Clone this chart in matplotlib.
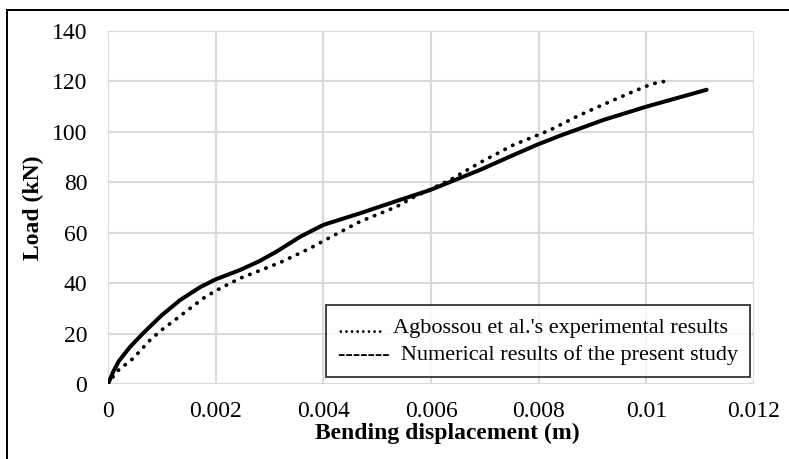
import matplotlib
matplotlib.use("Agg")
import matplotlib.pyplot as plt
from matplotlib.lines import Line2D

plt.rcParams['font.family'] = ['Liberation Serif', 'DejaVu Serif']

# numerical results of the present study (solid)
num_x = [0, 0.0001, 0.0002, 0.0004, 0.00066, 0.001, 0.00134, 0.00171, 0.002,
         0.00245, 0.0028, 0.00313, 0.00357, 0.004, 0.00468, 0.00542, 0.00598,
         0.00691, 0.00753, 0.00796, 0.0084, 0.0092, 0.01, 0.01112]
num_y = [0, 5.0, 9.0, 14.5, 20.3, 27.3, 33.3, 38.4, 41.5,
         45.2, 48.6, 52.5, 58.4, 63.1, 67.7, 73.0, 76.9,
         84.9, 90.8, 94.8, 98.5, 104.7, 110.0, 116.7]

# Agbossou et al. experimental results (dotted)
exp_x = [0, 0.00016, 0.00047, 0.00078, 0.001, 0.00128, 0.00177, 0.002, 0.00245, 0.0032,
         0.00375, 0.00406, 0.00468, 0.00536, 0.00567, 0.00635, 0.00691, 0.00753,
         0.00821, 0.0087, 0.00908, 0.00967, 0.0101, 0.0104]
exp_y = [0, 4.9, 10.2, 17.4, 21.5, 26.0, 34.0, 37.0, 41.9, 48.2,
         53.8, 57.4, 64.4, 70.3, 74.0, 80.9, 87.8, 94.8,
         100.7, 106.0, 109.7, 115.2, 119.0, 120.3]

x_ticks = [0, 0.002, 0.004, 0.006, 0.008, 0.010, 0.012]
x_labels = ['0', '0.002', '0.004', '0.006', '0.008', '0.01', '0.012']
y_ticks = [0, 20, 40, 60, 80, 100, 120, 140]

legend_labels = ["........  Agbossou et al.'s experimental results",
                 "-------  Numerical results of the present study"]

W, H = 789, 459
fig = plt.figure(figsize=(W / 100, H / 100), dpi=100)
ax = fig.add_axes([108 / W, 1 - 384 / H, (754 - 108) / W, (384 - 31) / H])

ax.plot(exp_x, exp_y, color='black', linewidth=2.7, linestyle=(0, (0.1, 2.2)),
        dash_capstyle='round', solid_joinstyle='round', zorder=3)
ax.plot(num_x, num_y, color='black', linewidth=2.9, solid_capstyle='round',
        solid_joinstyle='round', zorder=4)

ax.set_xlim(0, 0.012)
ax.set_ylim(0, 140)
ax.set_xticks(x_ticks)
ax.set_xticklabels(x_labels)
ax.set_yticks(y_ticks)
ax.tick_params(length=0, labelsize=17)
ax.tick_params(axis='y', pad=15)
ax.tick_params(axis='x', pad=12)
ax.grid(True, color='#d9d9d9', linewidth=1.5)
ax.set_axisbelow(True)
for s in ax.spines.values():
    s.set_visible(False)

fig.text(447 / W, 1 - 433 / H, 'Bending displacement (m)', fontsize=17,
         fontweight='bold', ha='center', va='center')
fig.text(33 / W, 1 - 208 / H, 'Load (kN)', fontsize=17, fontweight='bold',
         rotation=90, ha='center', va='center')

handles = [Line2D([], [], linestyle='none') for _ in legend_labels]
leg = fig.legend(handles, legend_labels, loc='center',
                 bbox_to_anchor=((319 + 757) / 2 / W, 1 - (305 + 377) / 2 / H),
                 fontsize=16, handlelength=0, handletextpad=0, frameon=True,
                 fancybox=False, borderpad=0.55, labelspacing=0.3)
leg.get_frame().set_edgecolor('black')
leg.get_frame().set_linewidth(1.3)

# outer border of the chart
fig.add_artist(Line2D([7 / W, 7 / W], [0, 1 - 10 / H], color='black', linewidth=1.4,
                      transform=fig.transFigure))
fig.add_artist(Line2D([7 / W, 1], [1 - 10 / H, 1 - 10 / H], color='black', linewidth=1.4,
                      transform=fig.transFigure))

fig.savefig('out.png', dpi=100)
